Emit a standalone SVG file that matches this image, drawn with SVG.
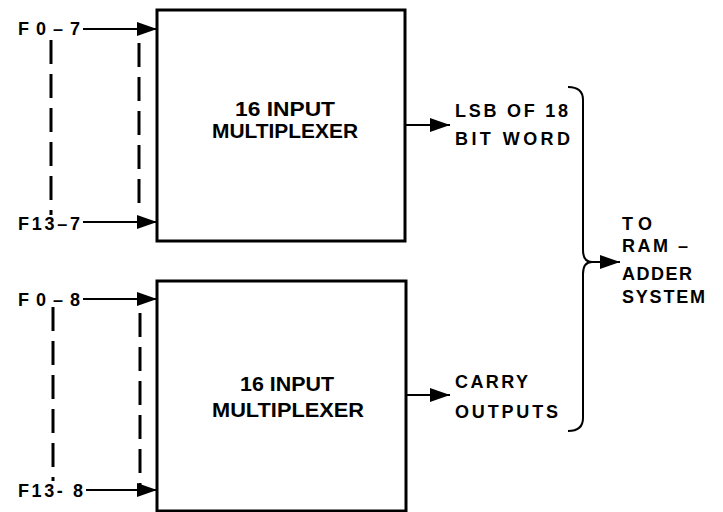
<svg xmlns="http://www.w3.org/2000/svg" width="723" height="512" viewBox="0 0 723 512">
<defs>
<marker id="ah" viewBox="0 0 20 14" refX="20" refY="7" markerWidth="20" markerHeight="14" markerUnits="userSpaceOnUse" orient="auto">
<path d="M0,0 L20,7 L0,14 Z" fill="#000"/>
</marker>
</defs>
<style>
.box{fill:#fff;stroke:#000;stroke-width:3}
.ln{fill:none;stroke:#000;stroke-width:2}
.dash{fill:none;stroke:#000;stroke-width:3;stroke-dasharray:24 10}
.t{font-family:"Liberation Sans",Arial,sans-serif;font-weight:bold;fill:#000}
.big{font-size:19.5px}
.sm{font-size:18px}
</style>
<rect width="723" height="512" fill="#fff"/>
<g id="mux1">
<rect class="box" x="157" y="10" width="248" height="231"/>
<text class="t big" x="285" y="116" text-anchor="middle" textLength="100" lengthAdjust="spacingAndGlyphs">16 INPUT</text>
<text class="t big" x="285" y="138" text-anchor="middle" textLength="146" lengthAdjust="spacingAndGlyphs">MULTIPLEXER</text>
</g>
<g id="mux2">
<rect class="box" x="157" y="281" width="249" height="230"/>
<text class="t big" x="287" y="391" text-anchor="middle" textLength="94" lengthAdjust="spacingAndGlyphs">16 INPUT</text>
<text class="t big" x="288" y="417" text-anchor="middle" textLength="152" lengthAdjust="spacingAndGlyphs">MULTIPLEXER</text>
</g>
<g id="labels-in">
<text class="t sm" x="18" y="35" textLength="62" lengthAdjust="spacing">F0–7</text>
<text class="t sm" x="18" y="230" textLength="62" lengthAdjust="spacing">F13–7</text>
<text class="t sm" x="18" y="306" textLength="62" lengthAdjust="spacing">F0–8</text>
<text class="t sm" x="18" y="497" textLength="65" lengthAdjust="spacing">F13- 8</text>
</g>
<g id="outputs">
<text class="t sm" x="455" y="117" textLength="113" lengthAdjust="spacing">LSB OF 18</text>
<text class="t sm" x="455" y="145" textLength="115" lengthAdjust="spacing">BIT WORD</text>
<text class="t sm" x="455" y="388" textLength="73" lengthAdjust="spacing">CARRY</text>
<text class="t sm" x="455" y="418" textLength="103" lengthAdjust="spacing">OUTPUTS</text>
</g>
<g id="dest">
<text class="t sm" x="622" y="230" textLength="30" lengthAdjust="spacing">TO</text>
<text class="t sm" x="622" y="252" textLength="66" lengthAdjust="spacing">RAM –</text>
<text class="t sm" x="622" y="280" textLength="70" lengthAdjust="spacing">ADDER</text>
<text class="t sm" x="622" y="303" textLength="83" lengthAdjust="spacing">SYSTEM</text>
</g>
<g id="connectors">
<line class="ln" x1="83" y1="29" x2="157" y2="29" marker-end="url(#ah)"/>
<line class="ln" x1="83" y1="222" x2="157" y2="222" marker-end="url(#ah)"/>
<line class="ln" x1="83" y1="299" x2="157" y2="299" marker-end="url(#ah)"/>
<line class="ln" x1="86" y1="490" x2="157" y2="490" marker-end="url(#ah)"/>
<line class="dash" x1="51" y1="40" x2="51" y2="215"/>
<line class="dash" x1="139" y1="43" x2="139" y2="212"/>
<line class="dash" x1="53" y1="307" x2="53" y2="481"/>
<line class="dash" x1="140" y1="313" x2="140" y2="485"/>
<line class="ln" x1="405" y1="125" x2="450" y2="125" marker-end="url(#ah)"/>
<line class="ln" x1="407" y1="395" x2="450" y2="395" marker-end="url(#ah)"/>
<path class="ln" stroke-width="2.5" d="M568,87 Q583,87 583,100 L583,250 Q583,262 592,262 Q583,262 583,274 L583,418 Q583,431 568,431"/>
<line class="ln" x1="590" y1="262" x2="620" y2="262" marker-end="url(#ah)"/>
</g>
</svg>
